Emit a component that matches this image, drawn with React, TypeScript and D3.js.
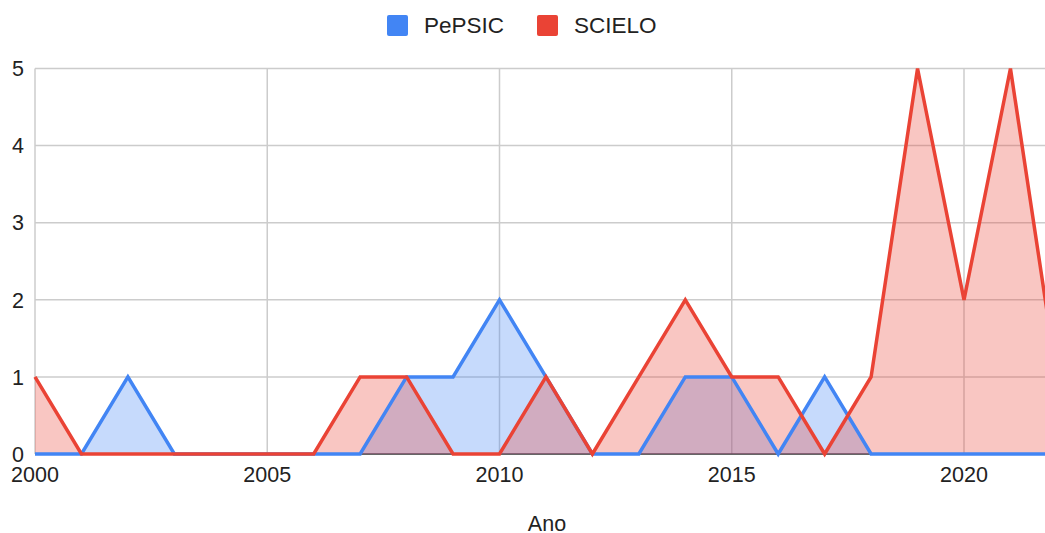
import { useEffect, useRef } from 'react';
import * as d3 from 'd3';

const years = [2000, 2001, 2002, 2003, 2004, 2005, 2006, 2007, 2008, 2009, 2010, 2011, 2012, 2013, 2014, 2015, 2016, 2017, 2018, 2019, 2020, 2021, 2022];
const pepsic = [0, 0, 1, 0, 0, 0, 0, 0, 1, 1, 2, 1, 0, 0, 1, 1, 0, 1, 0, 0, 0, 0, 0];
const scielo = [1, 0, 0, 0, 0, 0, 0, 1, 1, 0, 0, 1, 0, 1, 2, 1, 1, 0, 1, 5, 2, 5, 1];
const xTicks = [2000, 2005, 2010, 2015, 2020];
const yTicks = [0, 1, 2, 3, 4, 5];

const seriesList = [
  { name: 'PePSIC', values: pepsic, color: '#4285F4' },
  { name: 'SCIELO', values: scielo, color: '#EA4335' },
];

const App = () => {
  const ref = useRef<SVGSVGElement>(null);

  useEffect(() => {
    if (!ref.current) return;
    const svg = d3.select(ref.current);
    svg.selectAll('*').remove();

    const font = 'Arial, "Liberation Sans", sans-serif';
    const x = d3.scaleLinear().domain([2000, 2020]).range([35, 964]);
    const y = d3.scaleLinear().domain([0, 5]).range([454, 68.5]);

    const grid = svg.append('g');
    grid.selectAll('line.h')
      .data(yTicks.slice(1))
      .join('line')
      .attr('x1', x(2000)).attr('x2', x(2022))
      .attr('y1', d => y(d)).attr('y2', d => y(d))
      .attr('stroke', '#cccccc').attr('stroke-width', 1.5);
    grid.selectAll('line.v')
      .data(xTicks)
      .join('line')
      .attr('x1', d => x(d)).attr('x2', d => x(d))
      .attr('y1', y(5)).attr('y2', y(0))
      .attr('stroke', '#cccccc').attr('stroke-width', 1.5);

    // baseline
    svg.append('line')
      .attr('x1', x(2000)).attr('x2', x(2022))
      .attr('y1', y(0)).attr('y2', y(0))
      .attr('stroke', '#333').attr('stroke-width', 1.5);

    const area = d3.area<number>()
      .x((_, i) => x(years[i]))
      .y0(y(0))
      .y1(d => y(d));
    const line = d3.line<number>()
      .x((_, i) => x(years[i]))
      .y(d => y(d));

    seriesList.forEach(s => {
      svg.append('path')
        .attr('d', area(s.values))
        .attr('fill', s.color)
        .attr('fill-opacity', 0.3);
    });
    seriesList.forEach(s => {
      svg.append('path')
        .attr('d', line(s.values))
        .attr('fill', 'none')
        .attr('stroke', s.color)
        .attr('stroke-width', 3.5)
        .attr('stroke-linejoin', 'miter');
    });

    // y labels
    svg.selectAll('text.yl')
      .data(yTicks)
      .join('text')
      .attr('x', 24)
      .attr('y', d => y(d))
      .attr('dy', '0.36em')
      .attr('text-anchor', 'end')
      .attr('font-family', font)
      .attr('font-size', 21.5)
      .attr('fill', '#222')
      .text(d => d);

    // x labels
    svg.selectAll('text.xl')
      .data(xTicks)
      .join('text')
      .attr('x', d => x(d))
      .attr('y', 482)
      .attr('text-anchor', 'middle')
      .attr('font-family', font)
      .attr('font-size', 21.5)
      .attr('fill', '#222')
      .text(d => d);

    svg.append('text')
      .attr('x', 547)
      .attr('y', 531)
      .attr('text-anchor', 'middle')
      .attr('font-family', font)
      .attr('font-size', 21.5)
      .attr('fill', '#222')
      .text('Ano');

    // legend
    const legendX = [387, 537];
    seriesList.forEach((s, i) => {
      const g = svg.append('g').attr('transform', `translate(${legendX[i]},15)`);
      g.append('rect')
        .attr('width', 21).attr('height', 21)
        .attr('rx', 2)
        .attr('fill', s.color);
      g.append('text')
        .attr('x', 37)
        .attr('y', 18)
        .attr('font-family', font)
        .attr('font-size', 22.5)
        .attr('fill', '#222')
        .text(s.name);
    });
  }, []);

  return (
    <div style={{ position: 'fixed', left: 0, top: 0, width: 1045, height: 533, overflow: 'hidden', background: '#fff' }}>
      <svg ref={ref} width={1045} height={533} />
    </div>
  );
};

export default App;
